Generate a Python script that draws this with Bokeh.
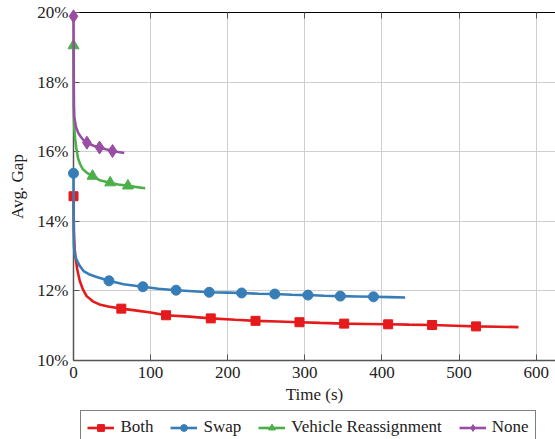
from bokeh.plotting import figure
from bokeh.layouts import column
from bokeh.models import (Range1d, FixedTicker, PrintfTickFormatter, LinearAxis,
                          Legend, LegendItem)
from bokeh.embed import file_html
from bokeh.resources import INLINE

# ---- data (time in s, average gap in %) ----
both_t = [0, 0.5, 1.5, 3, 5, 8, 12, 17, 25, 35, 45, 62, 80, 100, 120, 150, 178, 210,
          236, 265, 293, 320, 351, 380, 408, 435, 465, 495, 522, 550, 577]
both_v = [14.72, 13.7, 13.2, 12.9, 12.6, 12.3, 12.05, 11.85, 11.7, 11.6, 11.55, 11.49,
          11.44, 11.38, 11.30, 11.26, 11.21, 11.17, 11.14, 11.12, 11.10, 11.08, 11.06,
          11.05, 11.04, 11.03, 11.02, 11.00, 10.98, 10.97, 10.96]
both_mt = [0, 62, 120, 178, 236, 293, 351, 408, 465, 522]
both_mv = [14.72, 11.49, 11.30, 11.21, 11.14, 11.10, 11.06, 11.04, 11.02, 10.98]

swap_t = [0, 0.5, 1.5, 3, 5, 8, 13, 20, 30, 46, 65, 90, 110, 133, 155, 176, 200, 218,
          240, 261, 283, 304, 325, 346, 368, 389, 410, 430]
swap_v = [15.38, 13.3, 13.05, 12.95, 12.85, 12.72, 12.57, 12.48, 12.40, 12.29, 12.19,
          12.12, 12.06, 12.02, 11.99, 11.96, 11.95, 11.94, 11.92, 11.91, 11.89, 11.88,
          11.86, 11.85, 11.84, 11.83, 11.82, 11.81]
swap_mt = [0, 46, 90, 133, 176, 218, 261, 304, 346, 389]
swap_mv = [15.38, 12.29, 12.12, 12.02, 11.96, 11.94, 11.91, 11.88, 11.85, 11.83]

veh_t = [0, 0.5, 1, 2, 3.5, 6, 8.7, 12, 17, 24.7, 35, 47.6, 58, 70.6, 80, 93]
veh_v = [19.05, 17.0, 16.7, 16.4, 16.12, 15.8, 15.64, 15.5, 15.40, 15.30, 15.17, 15.11,
         15.06, 15.02, 14.99, 14.95]
veh_mt = [0, 24.7, 47.6, 70.6]
veh_mv = [19.05, 15.30, 15.11, 15.02]

none_t = [0, 0.5, 1, 2, 3.5, 6, 8.7, 13, 17.4, 26, 33.8, 42, 50.6, 58, 65.8]
none_v = [19.89, 17.3, 17.0, 16.85, 16.69, 16.55, 16.45, 16.33, 16.26, 16.17, 16.12,
          16.07, 16.02, 15.99, 15.96]
none_mt = [0, 17.4, 33.8, 50.6]
none_mv = [19.89, 16.26, 16.12, 16.02]

x_ticks = [0, 100, 200, 300, 400, 500, 600]
y_ticks = [10, 12, 14, 16, 18, 20]

FONT = "Liberation Serif"
FS = "17px"

p = figure(width=555, height=410, output_backend="svg", toolbar_location=None,
           x_range=Range1d(0, 625), y_range=Range1d(10, 20),
           min_border_left=73, min_border_right=0, min_border_top=12,
           min_border_bottom=50, x_axis_label="Time (s)", y_axis_label="Avg. Gap")
p.outline_line_color = None
p.background_fill_color = "white"

for ax in (p.xaxis[0], p.yaxis[0]):
    ax.axis_line_color = "#555555"
    ax.axis_line_width = 1.5
    ax.major_tick_in = 6
    ax.major_tick_out = 0
    ax.minor_tick_in = 0
    ax.minor_tick_out = 0
    ax.major_tick_line_color = "#555555"
    ax.major_label_text_font = FONT
    ax.major_label_text_font_size = FS
    ax.major_label_text_color = "#222222"
    ax.axis_label_text_font = FONT
    ax.axis_label_text_font_size = FS
    ax.axis_label_text_font_style = "normal"
    ax.axis_label_text_color = "#222222"

p.xaxis[0].ticker = FixedTicker(ticks=x_ticks)
p.yaxis[0].ticker = FixedTicker(ticks=y_ticks)
p.yaxis[0].formatter = PrintfTickFormatter(format="%d%%")
p.yaxis[0].major_label_standoff = 5
p.yaxis[0].axis_label_standoff = 7
p.xaxis[0].major_label_standoff = 6
p.xaxis[0].axis_label_standoff = 4

top = LinearAxis(ticker=FixedTicker(ticks=x_ticks), major_label_text_font_size="1px",
                 major_label_text_color=None, major_label_standoff=0,
                 major_tick_out=0, major_tick_in=6, minor_tick_in=0, minor_tick_out=0,
                 axis_line_color="black", axis_line_width=1.2,
                 major_tick_line_color="#555555")
p.add_layout(top, "above")

p.xgrid.ticker = FixedTicker(ticks=x_ticks)
p.ygrid.ticker = FixedTicker(ticks=y_ticks)
p.grid.grid_line_color = "#cfcfcf"
p.grid.grid_line_width = 1

# legend strip below the chart (its series sit outside the visible ranges)
q = figure(width=555, height=29, output_backend="svg", toolbar_location=None,
           x_axis_type=None, y_axis_type=None, min_border=0,
           min_border_left=0, min_border_right=0, min_border_top=0,
           min_border_bottom=0,
           x_range=Range1d(1000, 1001), y_range=Range1d(1000, 1001))
q.outline_line_color = None
q.grid.visible = False

series = [
    ("Both", both_t, both_v, both_mt, both_mv, "#e41a1c", "square", 9),
    ("Swap", swap_t, swap_v, swap_mt, swap_mv, "#377eb8", "circle", 10),
    ("Vehicle Reassignment", veh_t, veh_v, veh_mt, veh_mv, "#4daf4a", "triangle", 11),
    ("None", none_t, none_v, none_mt, none_mv, "#984ea3", "diamond", 13),
]
items = []
for name, t, v, mt, mv, col, mk, sz in series:
    p.line(t, v, line_color=col, line_width=2.6, level="overlay")
    p.scatter(mt, mv, marker=mk, size=sz, fill_color=col, line_color=col,
              level="overlay")
    lq = q.line(t, v, line_color=col, line_width=2.6)
    sq = q.scatter(mt, mv, marker=mk, size=sz, fill_color=col, line_color=col)
    items.append(LegendItem(label=name, renderers=[lq, sq]))

legend = Legend(items=items, orientation="horizontal", location=(7.4, -5.3),
                label_text_font=FONT, label_text_font_size=FS,
                label_text_color="#222222", glyph_width=27, glyph_height=17,
                label_height=17, label_standoff=6, spacing=17, padding=6,
                border_line_color="black", border_line_width=1,
                background_fill_color="white", background_fill_alpha=1)
q.add_layout(legend, "center")

layout = column(p, q, spacing=0)
open("out.html", "w").write(file_html(layout, INLINE))
